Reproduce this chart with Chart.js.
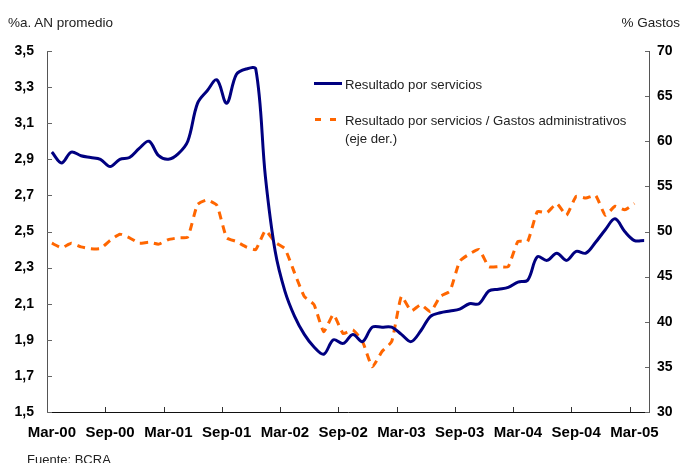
<!DOCTYPE html>
<html>
<head>
<meta charset="utf-8">
<script src="https://cdn.jsdelivr.net/npm/chart.js@4.4.1/dist/chart.umd.min.js"></script>
<style>
  html, body { margin: 0; padding: 0; background: #fff; }
  #wrap { position: relative; width: 682px; height: 463px; overflow: hidden; font-family: 'Liberation Sans', Arial, sans-serif; color: #222; }
  canvas { position: absolute; left: 0; top: 0; }
  .txt { position: absolute; white-space: nowrap; line-height: 15px; }
  .leg { font-size: 13.2px; line-height: 18px; color: #222; }
</style>
</head>
<body>
<div id="wrap">
  <canvas id="c" width="682" height="463"></canvas>
  <div class="txt" style="left:8px; top:15px; font-size:13.5px;">%a. AN promedio</div>
  <div class="txt" style="right:2px; top:15px; font-size:13.5px;">% Gastos</div>
  <div class="txt" style="left:27px; top:452px; font-size:13px;">Fuente: BCRA</div>
  <div style="position:absolute; left:314px; top:82px; width:28px; height:3px; background:#000080;"></div>
  <div class="txt leg" style="left:345px; top:76px;">Resultado por servicios</div>
  <div style="position:absolute; left:315px; top:118px; width:6px; height:3px; background:#FF6600;"></div>
  <div style="position:absolute; left:330px; top:118px; width:6px; height:3px; background:#FF6600;"></div>
  <div class="txt leg" style="left:345px; top:112px;">Resultado por servicios / Gastos administrativos<br>(eje der.)</div>
</div>
<script>
const categories = [
  'Mar-00','Abr-00','May-00','Jun-00','Jul-00','Ago-00','Sep-00','Oct-00','Nov-00','Dic-00','Ene-01','Feb-01',
  'Mar-01','Abr-01','May-01','Jun-01','Jul-01','Ago-01','Sep-01','Oct-01','Nov-01','Dic-01','Ene-02','Feb-02',
  'Mar-02','Abr-02','May-02','Jun-02','Jul-02','Ago-02','Sep-02','Oct-02','Nov-02','Dic-02','Ene-03','Feb-03',
  'Mar-03','Abr-03','May-03','Jun-03','Jul-03','Ago-03','Sep-03','Oct-03','Nov-03','Dic-03','Ene-04','Feb-04',
  'Mar-04','Abr-04','May-04','Jun-04','Jul-04','Ago-04','Sep-04','Oct-04','Nov-04','Dic-04','Ene-05','Feb-05',
  'Mar-05','Abr-05'
];
const xTickLabels = ['Mar-00','Sep-00','Mar-01','Sep-01','Mar-02','Sep-02','Mar-03','Sep-03','Mar-04','Sep-04','Mar-05'];

const resultadoServicios = [
  2.94, 2.88, 2.94, 2.92, 2.91, 2.90, 2.86, 2.90, 2.91, 2.96, 3.00, 2.92,
  2.90, 2.93, 3.00, 3.21, 3.28, 3.34, 3.21, 3.37, 3.40, 3.40, 2.80, 2.39,
  2.17, 2.03, 1.93, 1.86, 1.82, 1.90, 1.88, 1.93, 1.89, 1.97, 1.97, 1.97,
  1.93, 1.89, 1.95, 2.03, 2.05, 2.06, 2.07, 2.10, 2.10, 2.17, 2.18, 2.19,
  2.22, 2.23, 2.36, 2.34, 2.38, 2.34, 2.39, 2.38, 2.44, 2.51, 2.57, 2.50,
  2.45, 2.45
];
const resultadoSobreGastos = [
  48.7, 48.2, 48.7, 48.3, 48.1, 48.1, 49.0, 49.7, 49.3, 48.7, 48.8, 48.6,
  49.1, 49.3, 49.4, 53.0, 53.5, 52.9, 49.3, 48.9, 48.3, 48.0, 50.1, 48.8,
  48.1, 45.4, 42.8, 41.9, 38.9, 40.8, 38.7, 39.1, 37.8, 35.0, 36.7, 37.8,
  42.8, 41.2, 41.9, 41.1, 42.8, 43.4, 46.7, 47.5, 48.0, 46.1, 46.1, 46.1,
  48.9, 48.9, 52.2, 52.1, 53.1, 51.8, 53.9, 53.7, 54.0, 51.8, 52.8, 52.4,
  53.1, null
];
const leftTicks = [1.5, 1.7, 1.9, 2.1, 2.3, 2.5, 2.7, 2.9, 3.1, 3.3, 3.5];
const rightTicks = [30, 35, 40, 45, 50, 55, 60, 65, 70];

Chart.defaults.font.family = "'Liberation Sans', Arial, sans-serif";
Chart.defaults.color = '#000';

const tickMarks = {
  id: 'tickMarks',
  afterDraw(chart) {
    const { ctx, chartArea: a, scales } = chart;
    const x = scales.x, y = scales.y, y2 = scales.y2;
    ctx.save();
    ctx.lineWidth = 1;
    ctx.strokeStyle = '#333';
    ctx.beginPath();
    const half = (x.getPixelForValue(1) - x.getPixelForValue(0)) / 2;
    for (let i = 6; i < categories.length; i += 6) {
      const px = Math.round(x.getPixelForValue(i) - half) + 0.5;
      ctx.moveTo(px, a.bottom);
      ctx.lineTo(px, a.bottom - 5);
    }
    ctx.stroke();
    ctx.strokeStyle = '#666';
    ctx.beginPath();
    y.ticks.forEach(t => {
      const py = Math.round(y.getPixelForValue(t.value)) + 0.5;
      ctx.moveTo(a.left, py);
      ctx.lineTo(a.left + 5, py);
    });
    y2.ticks.forEach(t => {
      const py = Math.round(y2.getPixelForValue(t.value)) + 0.5;
      ctx.moveTo(a.right, py);
      ctx.lineTo(a.right - 4, py);
    });
    ctx.stroke();
    ctx.restore();
  }
};

new Chart(document.getElementById('c'), {
  type: 'line',
  data: {
    labels: categories,
    datasets: [
      {
        label: 'Resultado por servicios',
        data: resultadoServicios,
        yAxisID: 'y',
        borderColor: '#000080',
        borderWidth: 3,
        pointRadius: 0,
        tension: 0.35,
        fill: false
      },
      {
        label: 'Resultado por servicios / Gastos administrativos (eje der.)',
        data: resultadoSobreGastos,
        yAxisID: 'y2',
        borderColor: '#FF6600',
        borderWidth: 3,
        borderDash: [8, 6],
        pointRadius: 0,
        tension: 0.15,
        fill: false
      }
    ]
  },
  options: {
    responsive: false,
    animation: false,
    events: [],
    layout: { padding: { top: 51, left: 0, right: 0, bottom: 0 } },
    plugins: { legend: { display: false }, tooltip: { enabled: false } },
    scales: {
      x: {
        type: 'category',
        offset: true,
        grid: { display: false, drawTicks: false, offset: true },
        border: { display: true, color: '#111', width: 1 },
        ticks: {
          autoSkip: false,
          maxRotation: 0,
          minRotation: 0,
          padding: 12,
          font: { size: 15, weight: 'bold' },
          color: '#000',
          callback: (v, i) => (xTickLabels.includes(categories[i]) ? categories[i] : '')
        },
        afterFit: s => { s.height = 51; }
      },
      y: {
        position: 'left',
        min: 1.5,
        max: 3.5,
        grid: { display: false, drawTicks: false },
        border: { display: true, color: '#555', width: 1 },
        afterBuildTicks: s => { s.ticks = leftTicks.map(v => ({ value: v })); },
        ticks: {
          padding: 13,
          font: { size: 14, weight: 'bold' },
          color: '#000',
          callback: v => v.toFixed(1).replace('.', ',')
        },
        afterFit: s => { s.width = 47; }
      },
      y2: {
        position: 'right',
        min: 30,
        max: 70,
        grid: { display: false, drawTicks: false },
        border: { display: true, color: '#555', width: 1 },
        afterBuildTicks: s => { s.ticks = rightTicks.map(v => ({ value: v })); },
        ticks: {
          padding: 8,
          font: { size: 14, weight: 'bold' },
          color: '#000',
          callback: v => String(v)
        },
        afterFit: s => { s.width = 33; }
      }
    }
  },
  plugins: [tickMarks]
});
</script>
</body>
</html>
